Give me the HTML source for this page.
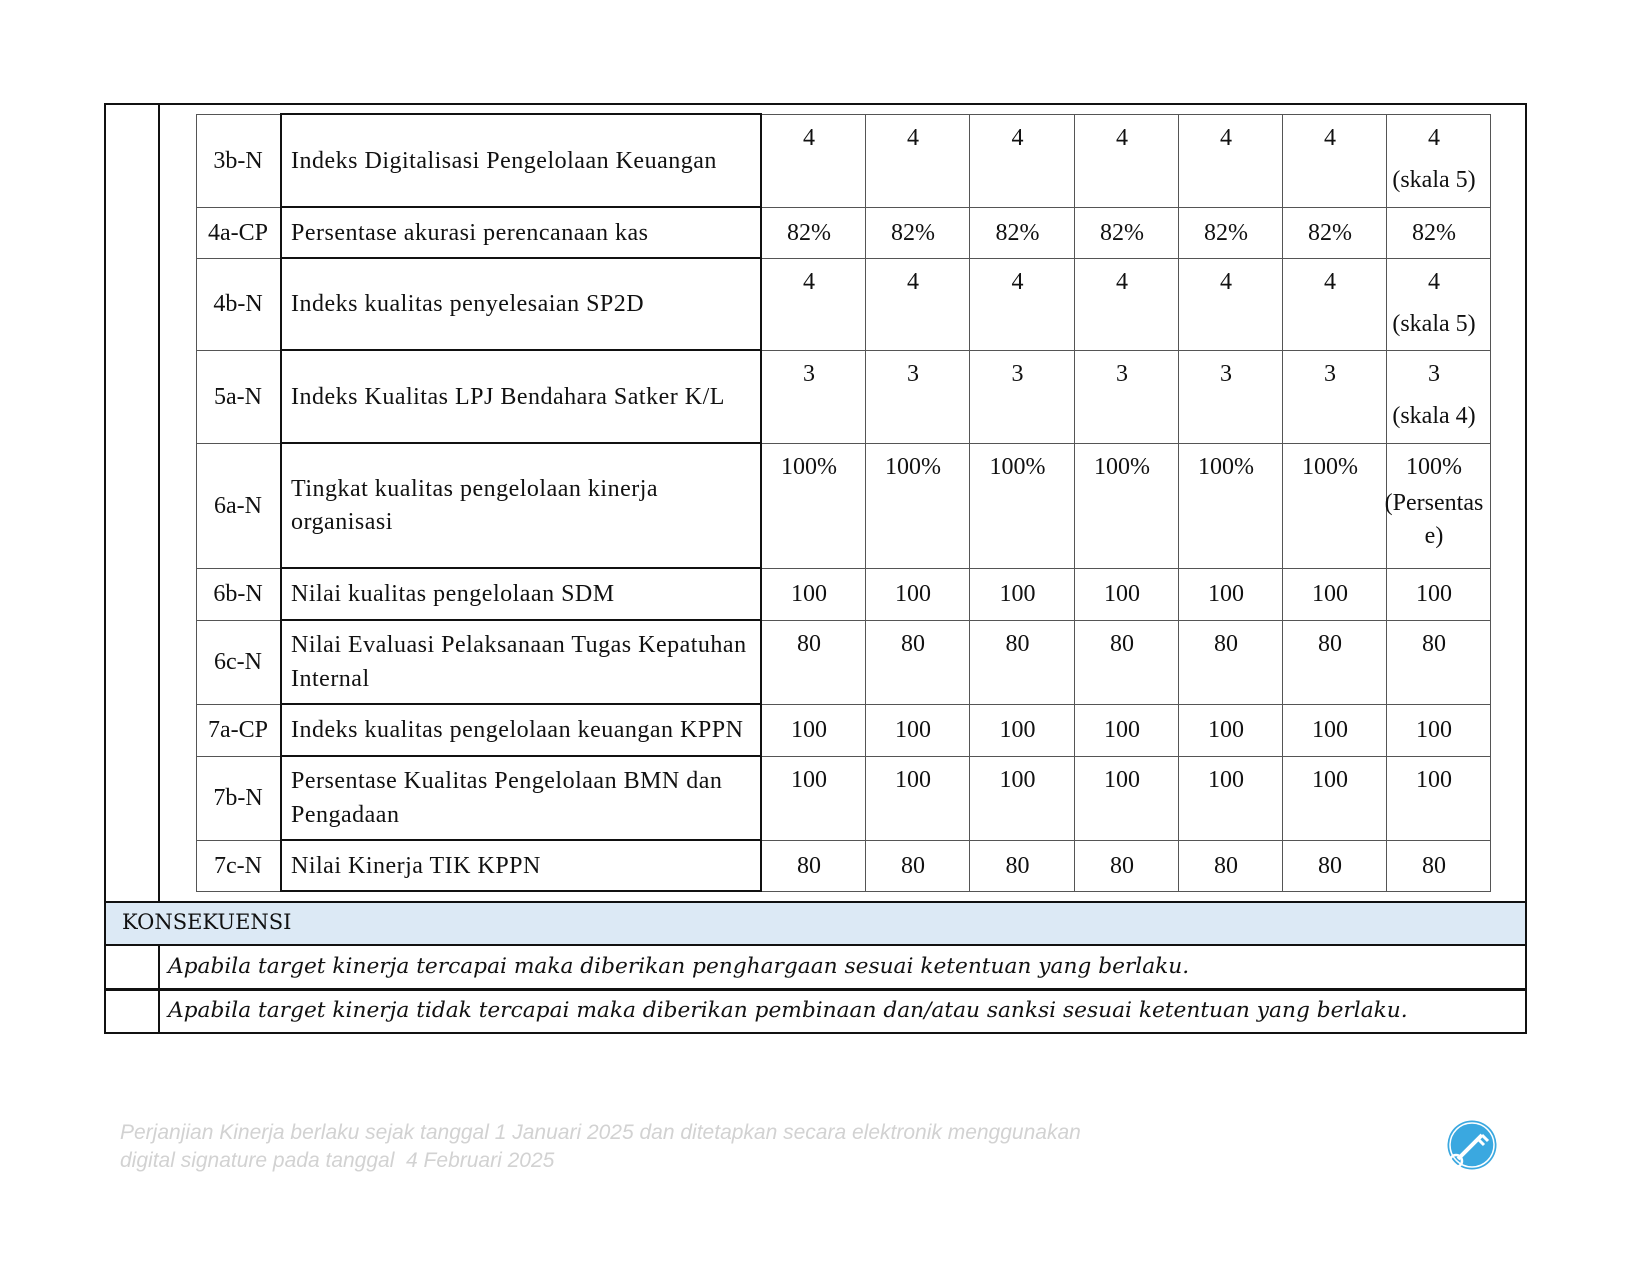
<!DOCTYPE html>
<html><head><meta charset="utf-8"><style>
body{margin:0;width:1650px;height:1275px;background:#fff;position:relative;overflow:hidden;font-family:"Liberation Serif",serif;}
div{position:absolute;box-sizing:border-box;}
.t{font-size:24px;color:#111;white-space:nowrap;line-height:30px;letter-spacing:0.5px;}
.c{text-align:center;}
</style></head><body>
<!-- outer frame -->
<div style="left:104px;top:103px;width:1423px;height:931px;border:2.5px solid #111;"></div>
<div style="left:158px;top:104px;width:2px;height:798px;background:#111;"></div>
<div style="left:104px;top:901px;width:1423px;height:45px;background:#dce9f5;border:2.5px solid #111;"></div>
<div style="left:104px;top:988px;width:1423px;height:2.5px;background:#111;"></div>
<div style="left:158px;top:945px;width:2px;height:88px;background:#111;"></div>
<div class="t" style="left:122px;top:907px;font-family:'DejaVu Serif',serif;font-size:21px;letter-spacing:0;">KONSEKUENSI</div>
<div class="t" style="left:168px;top:952px;font-family:'DejaVu Serif',serif;font-style:italic;font-size:21.7px;letter-spacing:0;">Apabila target kinerja tercapai maka diberikan penghargaan sesuai ketentuan yang berlaku.</div>
<div class="t" style="left:168px;top:996px;font-family:'DejaVu Serif',serif;font-style:italic;font-size:21.7px;letter-spacing:0;">Apabila target kinerja tidak tercapai maka diberikan pembinaan dan/atau sanksi sesuai ketentuan yang berlaku.</div>

<!-- inner table grid -->
<div style="left:196px;top:114px;width:1295px;height:778px;border:1px solid #555;"></div>
<div id="grid"></div>
<script>
(function(){
var rows=[114,207,258,350,443,568,620,704,756,840,891];
var cols=[196,280,761,865,969,1074,1178,1282,1386,1490];
var h='';
for(var i=1;i<rows.length-1;i++){h+='<div style="left:196px;top:'+rows[i]+'px;width:565px;height:1px;background:#555"></div>';
h+='<div style="left:280px;top:'+(rows[i]-1)+'px;width:482px;height:2px;background:#111"></div>';
h+='<div style="left:761px;top:'+rows[i]+'px;width:730px;height:1px;background:#555"></div>';}
h+='<div style="left:280px;top:113px;width:482px;height:2px;background:#111"></div>';
h+='<div style="left:280px;top:890px;width:482px;height:2px;background:#111"></div>';
h+='<div style="left:280px;top:114px;width:2px;height:777px;background:#111"></div>';
h+='<div style="left:760px;top:114px;width:2px;height:777px;background:#111"></div>';
for(var j=3;j<cols.length-1;j++)h+='<div style="left:'+cols[j]+'px;top:114px;width:1px;height:777px;background:#555"></div>';
var data=[
['3b-N',['Indeks Digitalisasi Pengelolaan Keuangan'],['4'],['4','(skala 5)']],
['4a-CP',['Persentase akurasi perencanaan kas'],['82%'],null],
['4b-N',['Indeks kualitas penyelesaian SP2D'],['4'],['4','(skala 5)']],
['5a-N',['Indeks Kualitas LPJ Bendahara Satker K/L'],['3'],['3','(skala 4)']],
['6a-N',['Tingkat kualitas pengelolaan kinerja','organisasi'],['100%'],['100%','(Persentas','e)']],
['6b-N',['Nilai kualitas pengelolaan SDM'],['100'],null],
['6c-N',['Nilai Evaluasi Pelaksanaan Tugas Kepatuhan','Internal'],['80'],null],
['7a-CP',['Indeks kualitas pengelolaan keuangan KPPN'],['100'],null],
['7b-N',['Persentase Kualitas Pengelolaan BMN dan','Pengadaan'],['100'],null],
['7c-N',['Nilai Kinerja TIK KPPN'],['80'],null]];
for(var i=0;i<data.length;i++){
 var rt=rows[i],rb=rows[i+1],mid=(rt+rb)/2,d=data[i];
 h+='<div class="t c" style="left:196px;width:84px;top:'+(mid-15)+'px;letter-spacing:0">'+d[0]+'</div>';
 var n=d[1].length;
 for(var k=0;k<n;k++)h+='<div class="t" style="left:291px;top:'+(mid-15+(k-(n-1)/2)*33.5)+'px">'+d[1][k]+'</div>';
 var single=(rb-rt)<60;
 var vy=single?mid:rt+24;
 for(var j=2;j<9;j++){
  var vals=(j==8&&d[3])?d[3]:d[2];
  for(var k=0;k<vals.length;k++){
   var dy=(vals.length==3)?k*36:k*42;
   if(vals.length==3&&k==2)dy=69;
   h+='<div class="t c" style="left:'+(cols[j]-4)+'px;width:'+(cols[j+1]-cols[j])+'px;top:'+(vy-15+dy)+'px;letter-spacing:0">'+vals[k]+'</div>';
  }
 }
}
document.getElementById('grid').outerHTML=h;
})();
</script>

<!-- footer -->
<div style="left:120px;top:1119px;font-family:'Liberation Sans',sans-serif;font-style:italic;font-size:21px;color:#d2d2d2;line-height:28px;white-space:nowrap;">Perjanjian Kinerja berlaku sejak tanggal 1 Januari 2025 dan ditetapkan secara elektronik menggunakan<br>digital signature pada tanggal&nbsp; 4 Februari 2025</div>
<svg style="position:absolute;left:1446px;top:1119px" width="52" height="52" viewBox="0 0 52 52">
<circle cx="26" cy="26" r="24.5" fill="#3aa8e0"/>
<circle cx="26" cy="26" r="22" fill="none" stroke="#fff" stroke-width="1.5"/>
<path d="M12 40 L36 16" stroke="#fff" stroke-width="4"/>
<path d="M32 20 L38 26 M36 16 L42 22" stroke="#fff" stroke-width="3"/>
<circle cx="10" cy="42" r="6" fill="none" stroke="#fff" stroke-width="2.5"/>
</svg>
</body></html>
